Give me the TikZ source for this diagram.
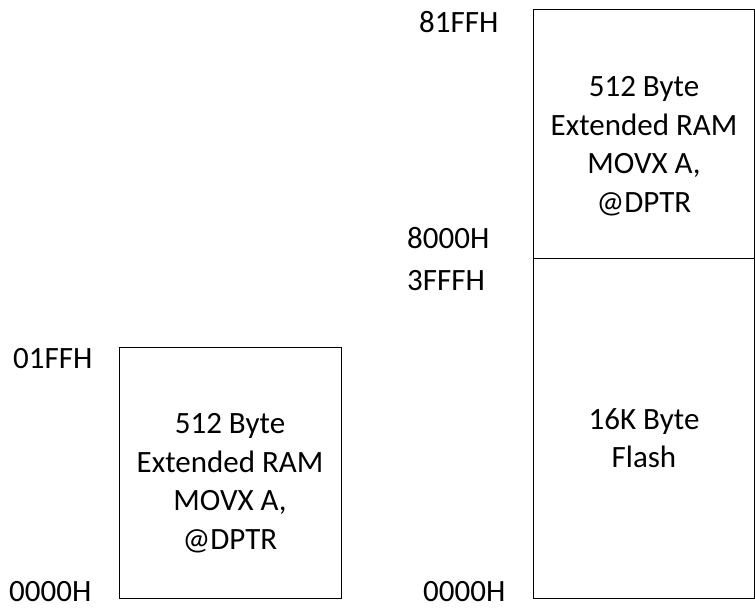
\documentclass[tikz,border=0pt]{standalone}
\usepackage{fontspec}
\setmainfont{Carlito}
\begin{document}
\begin{tikzpicture}[x=1pt,y=-1pt,
  mem/.style={draw=black,line width=1pt},
  addr/.style={anchor=base west,inner sep=0pt,font=\fontsize{31}{38}\selectfont},
  memtext/.style={align=center,inner sep=0pt,font=\fontsize{31}{38.5}\selectfont}]
\useasboundingbox (0,0) rectangle (755,608);
% left block
\draw[mem] (119.5,347.5) rectangle (341,598);
\node[memtext] (lram) at (230,483) {512 Byte\\Extended RAM\\MOVX A,\\@DPTR};
\node[addr] (a1) at (13,368) {01FFH};
\node[addr] (a2) at (9,601) {0000H};
% right column
\draw[mem] (533.5,9.5) rectangle (754,258.5);
\draw[mem] (533.5,258.5) rectangle (754,598);
\node[memtext] (rram) at (644,146) {512 Byte\\Extended RAM\\MOVX A,\\@DPTR};
\node[memtext] (flash) at (644,438) {16K Byte\\Flash};
\node[addr] (b1) at (419,32) {81FFH};
\node[addr] (b2) at (407,248) {8000H};
\node[addr] (b3) at (407,290) {3FFFH};
\node[addr] (b4) at (423,601) {0000H};
\end{tikzpicture}
\end{document}
